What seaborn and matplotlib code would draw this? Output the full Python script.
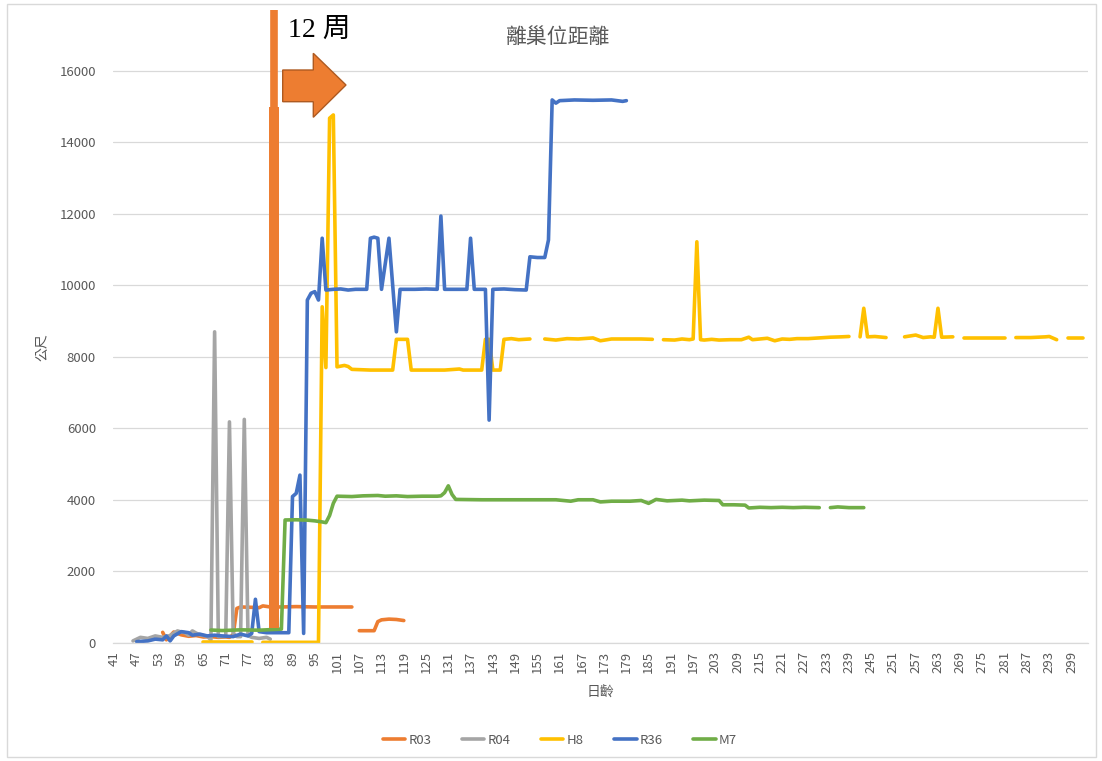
import numpy as np
import pandas as pd
import seaborn as sns
import matplotlib.pyplot as plt
from matplotlib.patches import Polygon, Rectangle
from matplotlib.lines import Line2D

nan = np.nan

# ---- data: day of age -> distance from nest (m); NaN marks a missing day ----
r03_days = [54, 55, 57, 59, 61, 63, 65, 67, 69, 71, 72, 73, 74, 75, 78, 80, 81, 83, 86, 90, 95, 100, 105,
            106, 107, 111, 112, 113, 115, 117, 119]
r03_vals = [290, 80, 300, 220, 180, 200, 160, 170, 150, 160, 150, 220, 960, 1000, 990, 980, 1030, 1000, 1000,
            1010, 1000, 1000, 1000, nan, 336, 336, 590, 640, 660, 650, 620]

r04_days = [46, 48, 50, 52, 54, 56, 58, 59, 60, 61, 62, 63, 64, 65, 66, 67, 68, 69, 70, 71, 72, 73, 74, 75,
            76, 77, 78, 80, 82, 83]
r04_vals = [50, 150, 120, 190, 150, 200, 330, 300, 280, 210, 330, 270, 220, 200, 180, 80, 8700, 170, 170, 170,
            6180, 260, 170, 170, 6250, 200, 150, 120, 150, 100]

h8_days = [65, 78, 79, 81, 96, 97, 98, 99, 100, 101, 102, 103, 104, 105, 110, 116, 117, 120, 121, 130, 134,
           135, 140, 141, 142, 143, 145, 146, 148, 150, 153, 154,
           157, 160, 163, 166, 170, 172, 175, 180, 183, 186, 187,
           189, 192, 194, 196, 197, 198, 199, 200, 202, 204, 207, 210, 212, 213, 215, 217, 219, 221, 223, 225,
           228, 231, 234, 237, 239, 240,
           242, 243, 244, 246, 249, 250,
           254, 257, 259, 261, 262, 263, 264, 267, 268,
           270, 275, 281, 282,
           284, 288, 292, 293, 295, 296,
           298, 302]
h8_vals = [10, 10, nan, 10, 10, 9400, 7700, 14680, 14770, 7720, 7740, 7760, 7730, 7650, 7630, 7630, 8490,
           8490, 7630, 7630, 7660, 7630, 7630, 8490, 8490, 7630, 7630, 8490, 8510, 8480, 8500, nan,
           8500, 8470, 8510, 8500, 8530, 8450, 8500, 8500, 8500, 8490, nan,
           8480, 8470, 8500, 8480, 8500, 11220, 8480, 8470, 8490, 8470, 8480, 8480, 8550, 8480, 8500, 8520,
           8450, 8500, 8490, 8510, 8510, 8530, 8550, 8560, 8570, nan,
           8560, 9360, 8560, 8570, 8540, nan,
           8560, 8610, 8540, 8560, 8550, 9360, 8550, 8560, nan,
           8540, 8540, 8540, nan,
           8540, 8540, 8560, 8570, 8480, nan,
           8540, 8540]

r36_days = [47, 50, 52, 54, 55, 56, 57, 59, 61, 62, 64, 66, 68, 70, 73, 75, 77, 78, 79, 80, 82, 88, 89, 90,
            91, 92, 93, 94, 95, 96, 97, 98, 100, 102, 104, 106, 109, 110, 111, 112, 113, 115, 117, 118,
            122, 125, 128, 129, 130, 133, 136, 137, 138, 141, 142, 143, 146, 149, 152, 153, 155, 157, 158,
            159, 160, 161, 165, 170, 175, 178, 179]
r36_vals = [30, 50, 100, 80, 190, 50, 190, 310, 280, 210, 240, 190, 210, 190, 170, 240, 190, 260, 1215, 310,
            280, 280, 4090, 4180, 4690, 260, 9590, 9780, 9825, 9590, 11320, 9870, 9890, 9900, 9870, 9890,
            9890, 11320, 11350, 11320, 9890, 11320, 8700, 9890, 9890, 9900, 9890, 11940, 9890, 9890, 9890,
            11320, 9890, 9890, 6230, 9890, 9900, 9880, 9870, 10800, 10780, 10780, 11270, 15190, 15100,
            15170, 15190, 15180, 15190, 15150, 15170]

m7_days = [67, 70, 75, 80, 86, 87, 90, 93, 95, 97, 98, 99, 100, 101, 105, 108, 112, 114, 117, 120, 124, 128,
           129, 130, 131, 132, 133, 140, 150, 160, 164, 166, 170, 172, 175, 180, 183, 185, 187, 190, 194,
           196, 200, 204, 205, 208, 211, 212, 215, 218, 221, 224, 227, 231, 232,
           234, 236, 239, 243]
m7_vals = [355, 340, 360, 350, 380, 3435, 3440, 3430, 3410, 3380, 3360, 3560, 3900, 4100, 4090, 4110, 4120,
           4100, 4110, 4090, 4100, 4100, 4110, 4200, 4390, 4150, 4010, 4000, 4000, 4000, 3960, 4000, 4000,
           3940, 3960, 3960, 3980, 3900, 4010, 3970, 3990, 3970, 3990, 3980, 3860, 3860, 3850, 3770, 3790,
           3780, 3790, 3780, 3790, 3780, nan,
           3780, 3800, 3780, 3780]

series_names = ['R03', 'R04', 'H8', 'R36', 'M7']
series_data = {
    'R03': (r03_days, r03_vals),
    'R04': (r04_days, r04_vals),
    'H8': (h8_days, h8_vals),
    'R36': (r36_days, r36_vals),
    'M7': (m7_days, m7_vals),
}
colors = ['#ED7D31', '#A5A5A5', '#FFC000', '#4472C4', '#70AD47']
palette = dict(zip(series_names, colors))

x_first, x_last, x_step = 41, 299, 6
y_ticks = [0, 2000, 4000, 6000, 8000, 10000, 12000, 14000, 16000]
week12_day = 12 * 7

# long-form table; every run between missing days becomes its own unit so the line breaks there
rows = []
for name in series_names:
    days, vals = series_data[name]
    seg = 0
    for d, v in zip(days, vals):
        if np.isnan(v):
            seg += 1
            continue
        rows.append({'series': name, 'seg': f'{name}-{seg}', 'day': d, 'value': v})
df = pd.DataFrame(rows)

sns.set_theme(style='white')
plt.rcParams['font.family'] = ['Noto Sans CJK TC', 'DejaVu Sans']

W, H = 1102, 761
fig = plt.figure(figsize=(W / 100, H / 100), dpi=100)
fig.patch.set_facecolor('white')

# plot area in pixel terms
px_left, px_right, px_zero, px_top = 112.6, 1088.2, 642.7, 2.0
val_per_px = 16000 / (642.7 - 71.0)
ax = fig.add_axes([px_left / W, 1 - px_zero / H, (px_right - px_left) / W, (px_zero - px_top) / H])

sns.lineplot(data=df, x='day', y='value', hue='series', hue_order=series_names, units='seg',
             estimator=None, sort=False, palette=palette, linewidth=2.6, legend=False, ax=ax,
             solid_capstyle='round', solid_joinstyle='round')

ax.set_xlim(40.5, 303.5)
ax.set_ylim(0, (px_zero - px_top) * val_per_px)
ax.set_yticks(y_ticks)
ax.set_xticks(list(range(x_first, x_last + 1, x_step)))
ax.set_xticklabels([str(v) for v in range(x_first, x_last + 1, x_step)], rotation=90)
ax.grid(axis='y', color='#D9D9D9', linewidth=0.9)
ax.grid(axis='x', visible=False)
for s in ['top', 'right', 'left']:
    ax.spines[s].set_visible(False)
ax.spines['bottom'].set_color('#D9D9D9')
ax.spines['bottom'].set_linewidth(0.9)
ax.tick_params(axis='both', length=0, colors='#595959', labelsize=9.5)
ax.tick_params(axis='y', pad=12)
ax.tick_params(axis='x', pad=6)

ax.set_xlabel('日齡', fontsize=10, color='#595959')
ax.xaxis.set_label_coords(0.5, (px_zero - 692) / (px_zero - px_top))
ax.xaxis.label.set_va('center')
ax.set_ylabel('公尺', fontsize=10, color='#595959')
ax.yaxis.set_label_coords((42 - px_left) / (px_right - px_left), (px_zero - 347) / (px_zero - px_top))
ax.yaxis.label.set_va('center')
ax.yaxis.label.set_ha('center')

fig.text(558 / W, 1 - 37 / H, '離巢位距離', ha='center', va='center', fontsize=15, color='#595959')

# 12-week marker
ax.plot([week12_day, week12_day], [400, 14990], color='#ED7D31', linewidth=7.2,
        solid_capstyle='butt', zorder=10)
ax.plot([week12_day, week12_day], [14990, 17700], color='#ED7D31', linewidth=5.5,
        solid_capstyle='butt', zorder=10)
arrow_px = [(282.7, 70), (313.3, 70), (313.3, 53.3), (346, 85), (313.3, 117.3), (313.3, 101.7),
            (282.7, 101.7)]
fig.add_artist(Polygon([(x / W, 1 - y / H) for x, y in arrow_px], closed=True,
                       facecolor='#ED7D31', edgecolor='#AE5A21', linewidth=1.0,
                       transform=fig.transFigure, zorder=11))
fig.text(288 / W, 1 - 37 / H, '12 周', fontsize=20, color='black', va='baseline', ha='left',
         family=['Liberation Serif', 'Noto Sans CJK TC'])

# legend below the plot
handles = [Line2D([0], [0], color=palette[n], linewidth=2.6) for n in series_names]
fig.legend(handles, series_names, loc='center', bbox_to_anchor=(560 / W, 1 - 740 / H), ncol=5,
           frameon=False, fontsize=9.5, handlelength=1.7, handletextpad=0.25, columnspacing=2.3,
           labelcolor='#595959')

# chart-area border
fig.add_artist(Rectangle((7 / W, 1 - 757 / H), (1096 - 7) / W, (757 - 4) / H, fill=False,
                         edgecolor='#D9D9D9', linewidth=1.0, transform=fig.transFigure))

fig.savefig('out.png', dpi=100)
